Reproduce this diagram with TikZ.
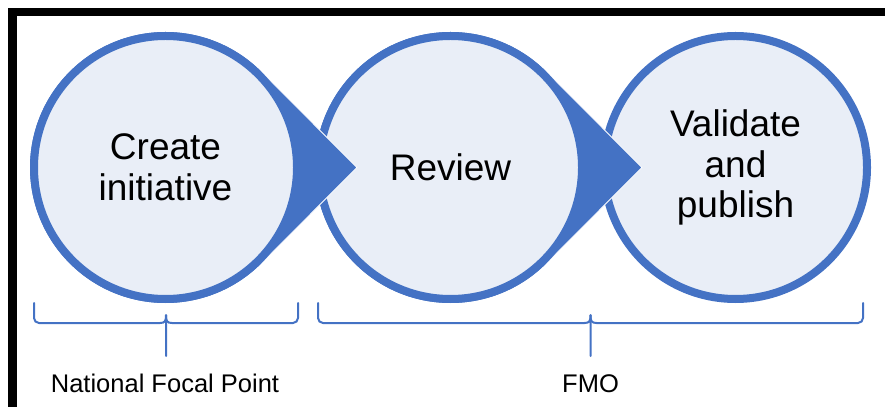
\documentclass[tikz,border=0pt]{standalone}
\usepackage{fontspec}
\setmainfont{Liberation Sans}
\definecolor{ringblue}{HTML}{4472C4}
\definecolor{stagefill}{HTML}{E9EEF7}
\begin{document}
\begin{tikzpicture}[x=1pt,y=1pt,
  stage/.style={circle, minimum size=263pt, inner sep=0pt, draw=ringblue, line width=8pt,
    fill=stagefill, align=center, font=\fontsize{37}{40.5}\selectfont},
  pointer/.style={fill=ringblue},
  pointeredge/.style={draw=white, line width=0.8pt},
  bracepath/.style={draw=ringblue, line width=2pt, line cap=round},
  grouplabel/.style={anchor=base, inner sep=0pt, font=\fontsize{25.5}{28}\selectfont}]
\useasboundingbox (0,0) rectangle (885,407);
% frame
\fill[black] (8,0) rectangle (17,399);
\fill[black] (8,391) rectangle (885,399);
% centres and arrow tips
\coordinate (o1) at (165.5,239.5);
\coordinate (o2) at (450.5,239.5);
\coordinate (o3) at (735.5,239.5);
\coordinate (p1) at (357,239.5);
\coordinate (p2) at (642,239.5);
% stage 3
\node[stage] (c3) at (o3) {Validate\\and\\publish};
% stage 2 with pointer
\fill[pointer] (p2) -- ([shift={(45:135.5)}]o2) arc[start angle=45, end angle=315, radius=135.5] -- cycle;
\draw[pointeredge] ([shift={(45:135.5)}]o2) -- (p2) -- ([shift={(-45:135.5)}]o2);
\node[stage] (c2) at (o2) {Review};
% stage 1 with pointer
\fill[pointer] (p1) -- ([shift={(45:135.5)}]o1) arc[start angle=45, end angle=315, radius=135.5] -- cycle;
\draw[pointeredge] ([shift={(45:135.5)}]o1) -- (p1) -- ([shift={(-45:135.5)}]o1);
\node[stage] (c1) at (o1) {Create\\initiative};
% braces
\coordinate (b1l) at (34,104);
\coordinate (b1r) at (298,104);
\coordinate (b1m) at (166,51);
\coordinate (b2l) at (318,104);
\coordinate (b2r) at (863,104);
\coordinate (b2m) at (590.5,51);
\draw[bracepath] (b1l) -- (34,89) arc[start angle=180, end angle=270, radius=5] -- (160,84)
  .. controls (165,84) and (166,86) .. (166,92) -- (b1m);
\draw[bracepath] (b1r) -- (298,89) arc[start angle=0, end angle=-90, radius=5] -- (172,84)
  .. controls (167,84) and (166,86) .. (166,92);
\draw[bracepath] (b2l) -- (318,89) arc[start angle=180, end angle=270, radius=5] -- (584.5,84)
  .. controls (589.5,84) and (590.5,86) .. (590.5,92) -- (b2m);
\draw[bracepath] (b2r) -- (863,89) arc[start angle=0, end angle=-90, radius=5] -- (596.5,84)
  .. controls (591.5,84) and (590.5,86) .. (590.5,92);
% labels
\node[grouplabel] (nfp) at (165,15) {National Focal Point};
\node[grouplabel] (fmo) at (590.5,15) {FMO};
\end{tikzpicture}
\end{document}
